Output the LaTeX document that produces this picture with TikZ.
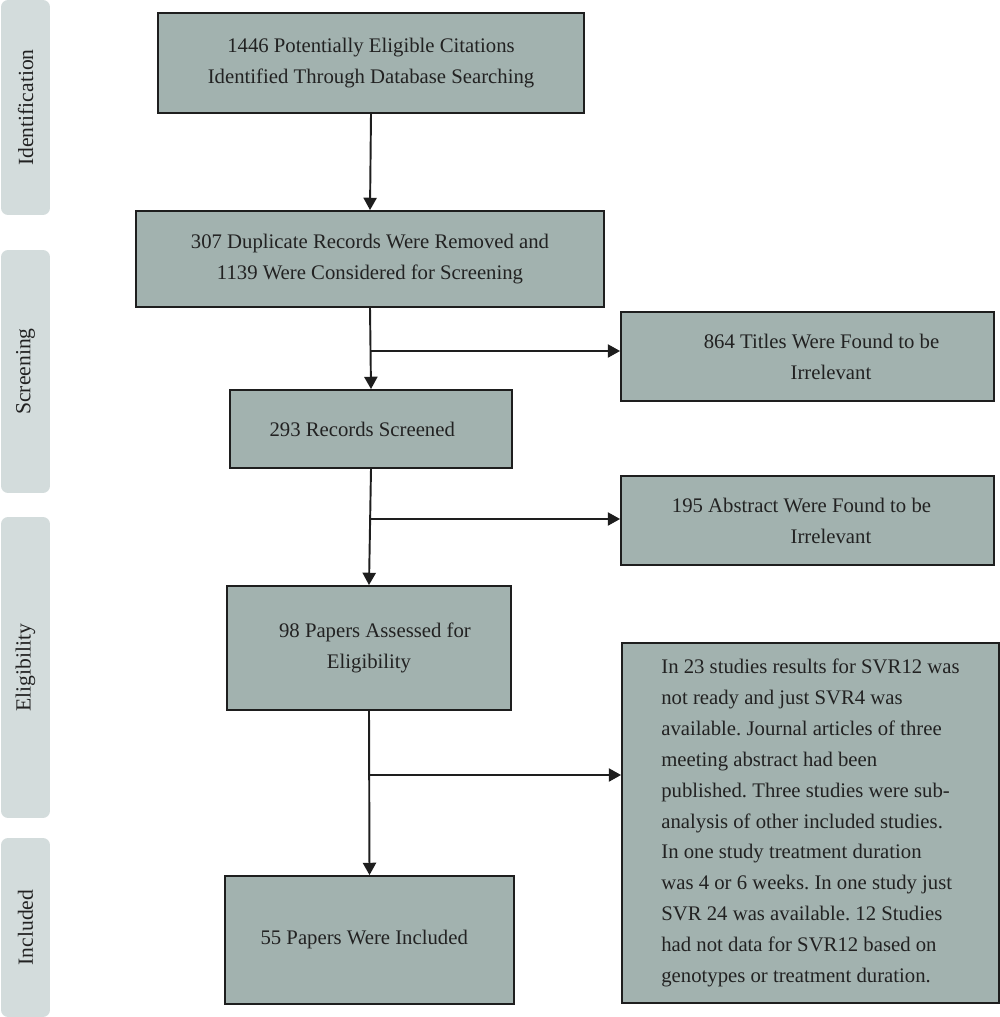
\documentclass[tikz,border=0pt]{standalone}
\usepackage{fontspec}
\setmainfont{Liberation Serif}
\usetikzlibrary{arrows.meta}
\definecolor{boxfill}{HTML}{A2B2AF}
\definecolor{sidefill}{HTML}{D3DCDC}
\definecolor{edge}{HTML}{1E1E1E}
\definecolor{ink}{HTML}{222222}
\frenchspacing
\begin{document}
\begin{tikzpicture}[x=0.02cm,y=-0.02cm,
 box/.style={draw=edge, line width=1.1pt, fill=boxfill, align=center, inner sep=0pt, text=ink,
   font=\fontsize{11.8}{17.6}\selectfont},
 side/.style={fill=sidefill, rounded corners=4pt, rotate=90, inner sep=0pt, text=ink,
   minimum height=0.98cm, font=\fontsize{12.3}{14}\selectfont},
 arr/.style={line width=1.1pt, draw=edge, -{Triangle[width=7.5pt,length=7pt]}}]
\useasboundingbox (0,0) rectangle (1000,1017);

\node[side, minimum width=4.3cm] (s1) at (25.5,107.5) {Identification};
\node[side, minimum width=4.86cm] (s2) at (25.5,371.5) {Screening};
\node[side, minimum width=6.02cm] (s3) at (25.5,667.5) {Eligibility};
\node[side, minimum width=3.58cm] (s4) at (25.5,927.5) {Included};

\node[box, minimum width=8.52cm, minimum height=2.0cm] (b1) at (371,63)
  {1446 Potentially Eligible Citations\\Identified Through Database Searching};
\node[box, minimum width=9.36cm, minimum height=1.92cm] (b2) at (370,259)
  {307 Duplicate Records Were Removed and\\1139 Were Considered for Screening};
\node[box, minimum width=7.46cm, minimum height=1.78cm] (b3) at (807.5,356.5)
  {\hspace*{16pt}864 Titles Were Found to be\\\hspace*{26.7pt}Irrelevant};
\node[box, minimum width=5.64cm, minimum height=1.56cm] (b4) at (371,429)
  {293 Records Screened\hspace*{10pt}};
\node[box, minimum width=7.46cm, minimum height=1.78cm] (b5) at (807.5,520.5)
  {195 Abstract Were Found to be\hspace*{6.8pt}\\\hspace*{26.7pt}Irrelevant};
\node[box, minimum width=5.68cm, minimum height=2.48cm] (b6) at (369,648)
  {\hspace*{6.8pt}98 Papers Assessed for\\Eligibility};
\node[box, minimum width=7.54cm, minimum height=7.2cm, align=left] (b7) at (810.5,823)
  {In 23 studies results for SVR12 was\\
   not ready and just SVR4 was\\
   available. Journal articles of three\\
   meeting abstract had been\\
   published. Three studies were sub-\\
   analysis of other included studies.\\
   In one study treatment duration\\
   was 4 or 6 weeks. In one study just\\
   SVR 24 was available. 12 Studies\\
   had not data for SVR12 based on\\
   genotypes or treatment duration.};
\node[box, minimum width=5.78cm, minimum height=2.56cm] (b8) at (369.5,940)
  {55 Papers Were Included\hspace*{6pt}};

\coordinate (j1) at (370,351);
\coordinate (j2) at (370,519);
\coordinate (j3) at (369,775);

\draw[arr] (b1.south) -- (b2.north);
\draw[arr] (b2.south) -- (b4.north);
\draw[arr] (j1) -- (j1 -| b3.west);
\draw[arr] (b4.south) -- (b6.north);
\draw[arr] (j2) -- (j2 -| b5.west);
\draw[arr] (b6.south) -- (b8.north);
\draw[arr] (j3) -- (j3 -| b7.west);
\end{tikzpicture}
\end{document}
